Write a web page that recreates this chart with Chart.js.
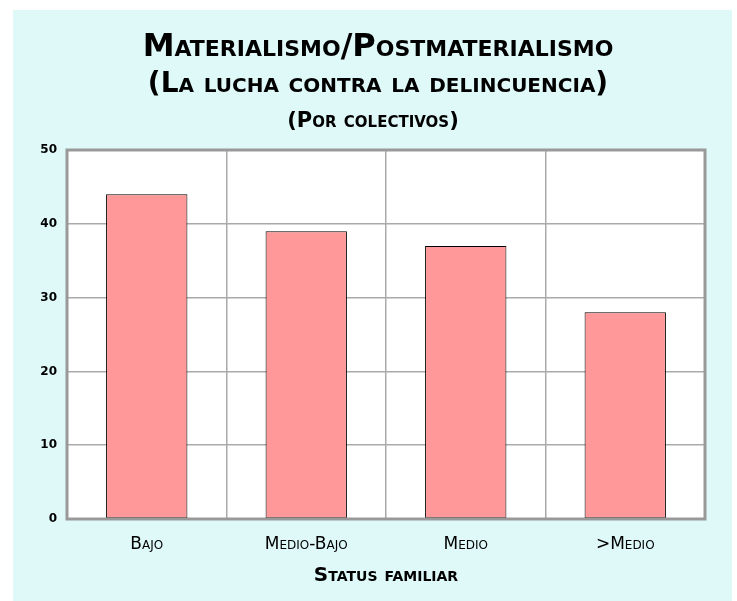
<!DOCTYPE html>
<html>
<head>
<meta charset="utf-8">
<script src="https://cdn.jsdelivr.net/npm/chart.js@4"></script>
<style>
  body { margin: 0; background: #ffffff; }
  #wrap { width: 737px; height: 601px; }
</style>
</head>
<body>
<div id="wrap"><canvas id="grafico" width="737" height="601"></canvas></div>
<script>
// Datos del gráfico
var categorias = ['Bajo', 'Medio-Bajo', 'Medio', '>Medio'];
var valores = [44, 39, 37, 28];
var titulo = 'Materialismo/Postmaterialismo';
var subtitulo = '(La lucha contra la delincuencia)';
var subtitulo2 = '(Por colectivos)';
var tituloEje = 'Status familiar';

var FAMILIA = "'DejaVu Sans', sans-serif";

// fondo cian, area blanca con marco gris y tercera linea del titulo
const fondo = {
    id: 'fondo',
    beforeDraw(chart) {
        const ctx = chart.ctx;
        const a = chart.chartArea;
        ctx.save();
        ctx.fillStyle = '#dff8f8';
        ctx.fillRect(13, 10, 719, 591);
        ctx.fillStyle = '#ffffff';
        ctx.fillRect(a.left, a.top, a.right - a.left, a.bottom - a.top);
        ctx.restore();
    },
    afterDraw(chart) {
        const ctx = chart.ctx;
        const a = chart.chartArea;
        ctx.save();
        ctx.strokeStyle = '#999999';
        ctx.lineWidth = 3;
        ctx.strokeRect(a.left, a.top, a.right - a.left, a.bottom - a.top);
        ctx.fillStyle = '#000000';
        ctx.font = "small-caps bold 21px " + FAMILIA;
        ctx.textAlign = 'center';
        ctx.textBaseline = 'middle';
        ctx.fillText(subtitulo2, 373, 122);
        ctx.restore();
    }
};

const ctx = document.getElementById('grafico').getContext('2d');
const grafico = new Chart(ctx, {
    type: 'bar',
    data: {
        labels: categorias,
        datasets: [{
            data: valores,
            backgroundColor: '#ff9999',
            borderColor: '#000000',
            borderWidth: 1,
            borderSkipped: false,
            categoryPercentage: 1,
            barPercentage: 0.51
        }]
    },
    options: {
        responsive: false,
        animation: false,
        layout: { padding: { left: 19, right: 0, top: 0, bottom: 0 } },
        plugins: {
            legend: { display: false },
            tooltip: { enabled: false },
            title: {
                display: true,
                text: titulo,
                color: '#000000',
                font: { family: FAMILIA, size: 32, weight: 'small-caps bold', lineHeight: 1.2 },
                padding: { top: 28, bottom: 0 }
            },
            subtitle: {
                display: true,
                text: subtitulo,
                color: '#000000',
                font: { family: FAMILIA, size: 28, weight: 'small-caps bold', lineHeight: 1.2 },
                padding: { top: 2, bottom: 48 }
            }
        },
        scales: {
            x: {
                offset: true,
                grid: { display: true, offset: true, color: '#aaaaaa', lineWidth: 1.5, drawTicks: false },
                border: { display: false },
                ticks: {
                    color: '#000000',
                    padding: 15,
                    font: { family: FAMILIA, size: 17, weight: 'small-caps normal' }
                },
                title: {
                    display: true,
                    text: tituloEje,
                    color: '#000000',
                    font: { family: FAMILIA, size: 20, weight: 'small-caps bold' },
                    padding: { top: 10, bottom: 13 }
                },
                afterFit(scale) { scale.height = 82; }
            },
            y: {
                min: 0,
                max: 50,
                ticks: {
                    stepSize: 10,
                    color: '#000000',
                    padding: 10,
                    font: { family: FAMILIA, size: 12, weight: 'bold' }
                },
                grid: { color: '#aaaaaa', lineWidth: 1.5, drawTicks: false },
                border: { display: false },
                afterFit(scale) { scale.width = 48; }
            },
            margen: {
                type: 'linear',
                position: 'right',
                min: 0,
                max: 50,
                ticks: { display: false },
                grid: { display: false },
                border: { display: false },
                afterFit(scale) { scale.width = 32; }
            }
        }
    },
    plugins: [fondo]
});
</script>
</body>
</html>
